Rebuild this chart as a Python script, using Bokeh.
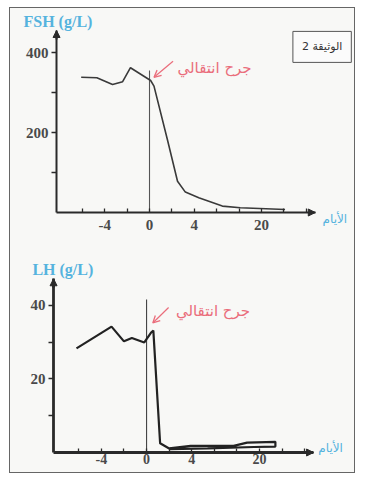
from bokeh.plotting import figure
from bokeh.models import Range1d, FixedTicker, Arrow, NormalHead, OpenHead, Label
from bokeh.layouts import column
from bokeh.embed import file_html
from bokeh.resources import INLINE

# ---------------- data (positions along the day axis, as drawn) ----------------
fsh_day = [-6.1, -4.7, -3.3, -2.4, -1.7, 0.1, 0.4, 1.6, 2.5, 3.2, 4.4, 6.5, 8.1, 12.1]
fsh_val = [338, 337, 320, 327, 362, 330, 316, 182, 78, 51, 37, 16, 12, 7.5]

lh_day = [-6.2, -3.1, -2.0, -1.3, -0.2, 0.4, 0.6, 1.2, 2.0, 3.9, 7.7, 8.9, 11.4, 11.4, 9.5, 5.4, 2.0]
lh_val = [28.3, 34.2, 30.2, 31.1, 29.9, 32.6, 33.1, 2.5, 1.1, 1.8, 1.8, 2.7, 2.9, 1.6, 1.5, 1.1, 0.9]

x_ticks = [-6, -4, -2, 0, 2, 4, 6, 8, 10, 12, 14]
x_tick_text = {-4: "-4", 0: "0", 4: "4", 10: "20"}

fsh_ticks = [200, 400]
fsh_minor = [100, 300]
lh_ticks = [20, 40]
lh_minor = [10, 30]

title_fsh = "FSH (g/L)"
title_lh = "LH (g/L)"
x_name = "الأيام"
note = "جرح انتقالي"
doc_tag = "الوثيقة 2"

BG = "#f8f8f6"
BLUE = "#55b3de"
RED = "#ea6d7b"
INK = "#2a2a2a"
TICKC = "#4a4a4a"
SERIF = "Liberation Serif"
ARAB = "DejaVu Sans"


def make_fig(height, xr, yr, x_axis_end, y_axis_x, y_axis_end, yticks, yminor, axis_w, xstand, xfs):
    p = figure(width=344, height=height, x_range=Range1d(*xr), y_range=Range1d(*yr),
               output_backend="svg", toolbar_location=None, min_border=0)
    p.background_fill_color = BG
    p.border_fill_color = BG
    p.outline_line_color = None
    p.grid.visible = False
    for ax in (p.xaxis[0], p.yaxis[0]):
        ax.axis_line_color = INK
        ax.axis_line_width = axis_w
        ax.major_tick_line_color = INK
        ax.minor_tick_line_color = INK
        ax.major_tick_line_width = 1.3
        ax.minor_tick_line_width = 1.3
        ax.major_label_text_font = SERIF
        ax.major_label_text_font_style = "bold"
        ax.major_label_text_font_size = "15px"
        ax.major_label_text_color = TICKC
    xa = p.xaxis[0]
    xa.fixed_location = 0
    xa.bounds = (y_axis_x, x_axis_end)
    xa.ticker = FixedTicker(ticks=x_ticks, minor_ticks=[])
    xa.major_label_overrides = {t: x_tick_text.get(t, "") for t in x_ticks}
    xa.major_tick_in = 4
    xa.major_tick_out = 0
    xa.major_label_standoff = xstand
    xa.major_label_text_font_size = xfs
    ya = p.yaxis[0]
    ya.fixed_location = y_axis_x
    ya.bounds = (0, y_axis_end)
    ya.ticker = FixedTicker(ticks=yticks, minor_ticks=yminor)
    ya.major_tick_in = 0
    ya.major_tick_out = 5
    ya.minor_tick_in = 0
    ya.minor_tick_out = 5
    ya.major_label_standoff = 3
    # axis arrow heads
    p.add_layout(Arrow(end=NormalHead(size=7, fill_color=INK, line_color=INK),
                       x_start=x_axis_end - 0.6, y_start=0, x_end=x_axis_end, y_end=0,
                       line_color=INK, line_width=axis_w))
    p.add_layout(Arrow(end=NormalHead(size=7, fill_color=INK, line_color=INK),
                       x_start=y_axis_x, y_start=y_axis_end * 0.95, x_end=y_axis_x, y_end=y_axis_end,
                       line_color=INK, line_width=axis_w))
    return p


# ---------------- FSH ----------------
p1 = make_fig(232, (-12.41, 18.3), (-70, 510), 14.8, -8.3, 455, fsh_ticks, fsh_minor, 2, 7, "15px")
p1.segment(x0=[0], y0=[0], x1=[0], y1=[355], line_color="#555555", line_width=1.1)
p1.line(fsh_day, fsh_val, line_color="#3a3a3a", line_width=1.6)
p1.add_layout(Arrow(end=OpenHead(size=7, line_color=RED, line_width=1.3),
                    x_start=2.1, y_start=378, x_end=0.4, y_end=338,
                    line_color=RED, line_width=1.2))
p1.add_layout(Label(x=2.5, y=362, text=note, text_font=ARAB, text_font_size="15px",
                    text_color=RED, text_baseline="middle", text_align="left"))
p1.add_layout(Label(x=-11.25, y=477, text=title_fsh, text_font=SERIF, text_font_style="bold",
                    text_font_size="16px", text_color=BLUE, text_baseline="middle", text_align="left"))
p1.add_layout(Label(x=15.45, y=-15, text=x_name, text_font=ARAB, text_font_size="12px",
                    text_color=BLUE, text_baseline="middle", text_align="left"))
p1.add_layout(Label(x=12.8, y=414, text=doc_tag, text_font=ARAB, text_font_size="11px",
                    text_color="#333333", text_baseline="middle", text_align="left",
                    border_line_color="#555555", border_line_width=1,
                    background_fill_color="#fbfbfb", padding=9))

# ---------------- LH ----------------
p2 = make_fig(232, (-12.04, 18.4), (-5.43, 57.6), 14.78, -8.23, 47.2, lh_ticks, lh_minor, 2.8, 1, "14px")
p2.segment(x0=[0], y0=[0], x1=[0], y1=[41.6], line_color="#444444", line_width=1.1)
p2.line(lh_day, lh_val, line_color="#222222", line_width=2.2)
p2.add_layout(Arrow(end=OpenHead(size=7, line_color=RED, line_width=1.3),
                    x_start=1.95, y_start=39.4, x_end=0.55, y_end=35.2,
                    line_color=RED, line_width=1.2))
p2.add_layout(Label(x=2.6, y=38.4, text=note, text_font=ARAB, text_font_size="15px",
                    text_color=RED, text_baseline="middle", text_align="left"))
p2.add_layout(Label(x=-10.1, y=49.8, text=title_lh, text_font=SERIF, text_font_style="bold",
                    text_font_size="16px", text_color=BLUE, text_baseline="middle", text_align="left"))
p2.add_layout(Label(x=15.2, y=1.1, text=x_name, text_font=ARAB, text_font_size="12px",
                    text_color=BLUE, text_baseline="middle", text_align="left"))

layout = column(p1, p2, spacing=0,
                styles={"border": "1px solid #666666", "background-color": BG,
                        "margin-left": "9px", "margin-top": "7px"})

open("out.html", "w").write(file_html(layout, INLINE))
